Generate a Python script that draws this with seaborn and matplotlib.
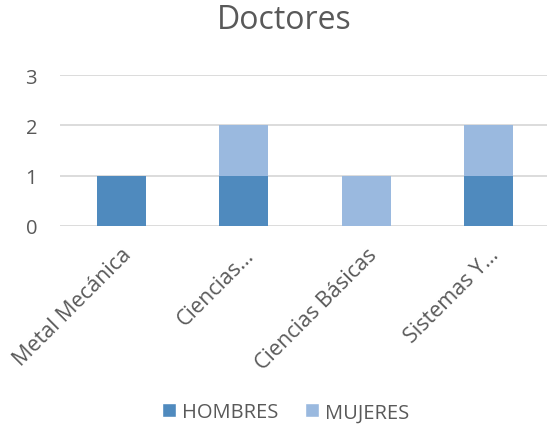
import matplotlib
matplotlib.use("Agg")
import matplotlib.pyplot as plt
import seaborn as sns
import pandas as pd
from matplotlib.patches import Patch

categories = ["Metal Mecánica", "Ciencias…", "Ciencias Básicas", "Sistemas Y…"]
hombres = [1, 1, 0, 1]
mujeres = [0, 1, 1, 1]
yticks = [0, 1, 2, 3]

c_h = "#4F8ABE"
c_m = "#9AB9DF"
txt = "#595959"

sns.set_theme(style="white")
plt.rcParams["font.family"] = ["Open Sans", "DejaVu Sans"]

fig = plt.figure(figsize=(5.47, 4.27), dpi=100)
ax = fig.add_axes([0.1097, 0.4684, 0.896, 0.3536])

df = pd.DataFrame({"cat": categories, "H": hombres, "M": mujeres})
df["total"] = df["H"] + df["M"]

sns.barplot(data=df, x="cat", y="total", color=c_m, width=0.4, ax=ax,
            saturation=1, linewidth=0)
sns.barplot(data=df, x="cat", y="H", color=c_h, width=0.4, ax=ax,
            saturation=1, linewidth=0)

ax.set_ylim(0, 3)
ax.set_xlim(-0.5, 3.5)
ax.set_yticks(yticks)
ax.set_yticklabels([str(v) for v in yticks], fontsize=14.5, color=txt)
ax.yaxis.grid(True, color="#D9D9D9", linewidth=1.3)
ax.set_axisbelow(True)
for s in ax.spines.values():
    s.set_visible(False)
ax.tick_params(axis="both", length=0)
ax.tick_params(axis="y", pad=16.5)
ax.set_xlabel("")
ax.set_ylabel("")
ax.set_xticks(range(len(categories)))
ax.set_xticklabels(categories, rotation=45, ha="right", rotation_mode="anchor",
                   fontsize=15.5, color=txt)
ax.tick_params(axis="x", pad=13)

fig.text(0.519, 0.951, "Doctores", ha="center", va="center", fontsize=23, color=txt)

handles = [Patch(facecolor=c_h, label="HOMBRES"), Patch(facecolor=c_m, label="MUJERES")]
fig.legend(handles=handles, loc="center", bbox_to_anchor=(0.522, 0.032), ncol=2,
           frameon=False, fontsize=14.5, handlelength=0.7, handleheight=0.7,
           handletextpad=0.3, columnspacing=1.3, labelcolor=txt)

fig.savefig("out.png", dpi=100)
